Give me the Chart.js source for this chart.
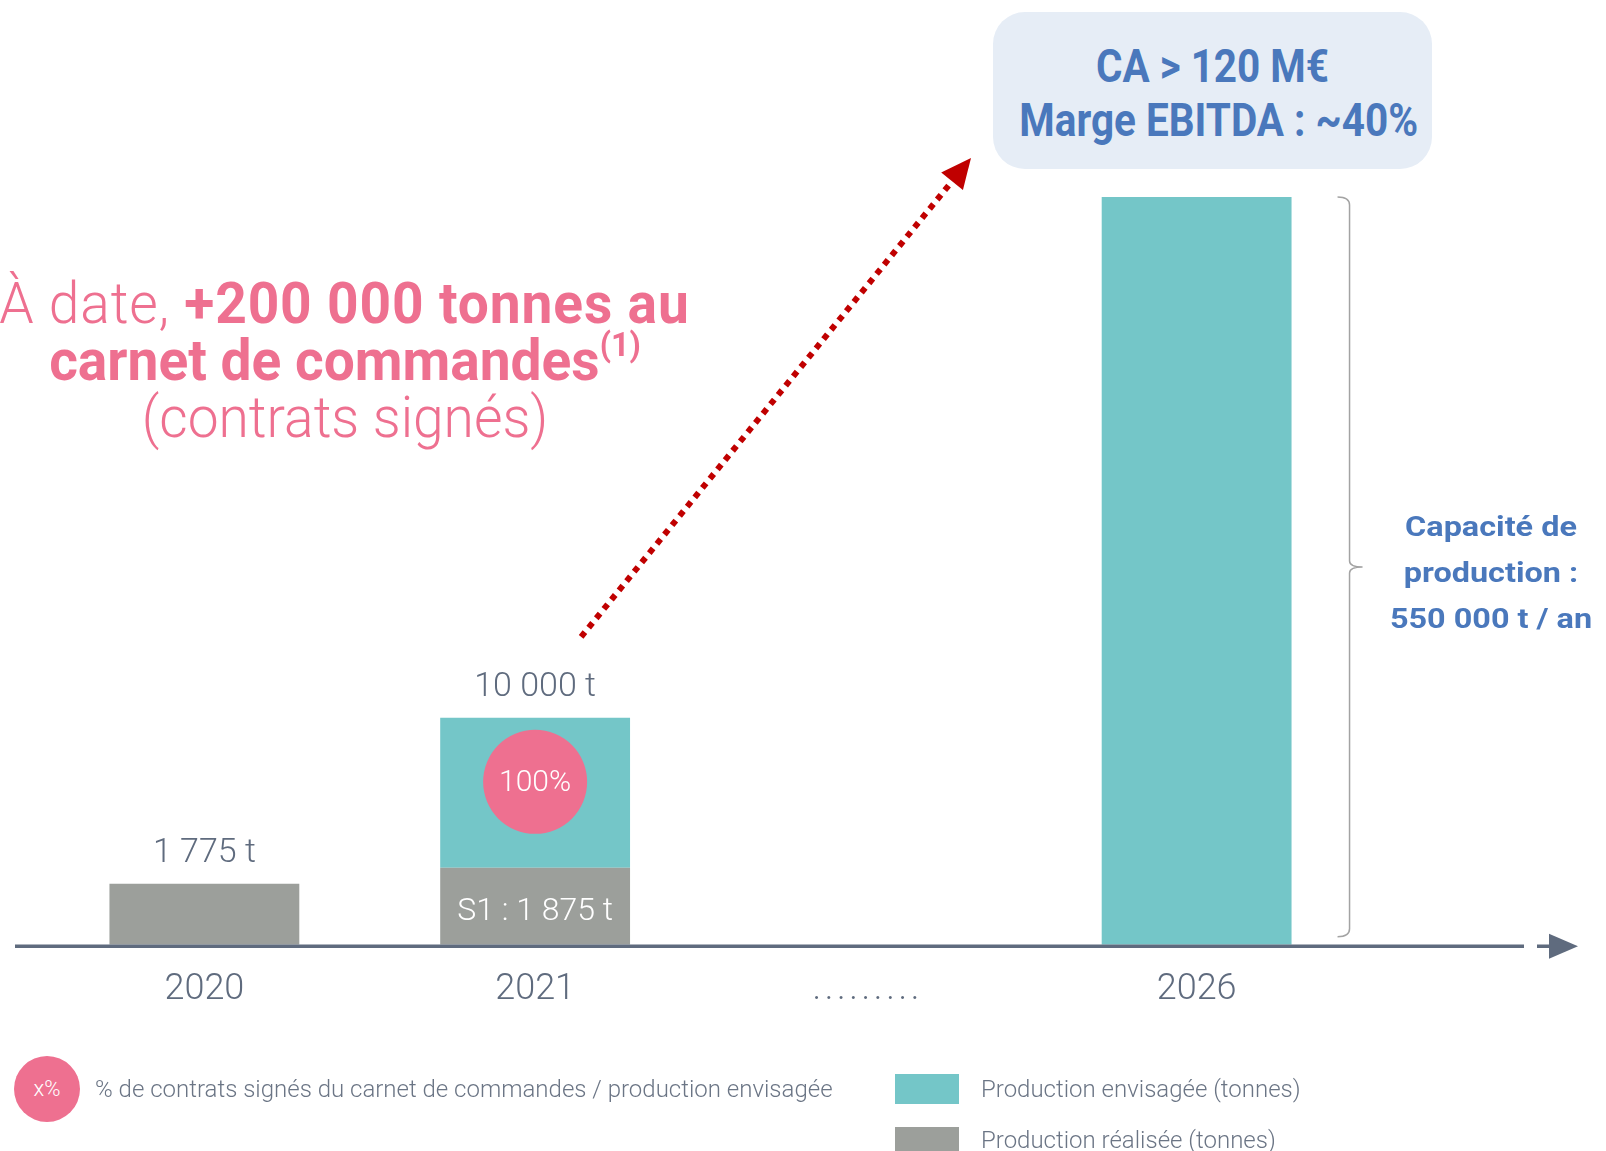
<!DOCTYPE html>
<html lang="fr">
<head>
<meta charset="utf-8">
<title>Production envisagée</title>
<script src="https://cdn.jsdelivr.net/npm/chart.js@4.4.0/dist/chart.umd.min.js"></script>
<style>
  html, body { margin: 0; padding: 0; background: #fff; }
  body { width: 1606px; height: 1151px; position: relative; overflow: hidden; font-family: Roboto, "Open Sans", sans-serif; }
  #chart { position: absolute; left: 0; top: 0; }
  .note { position: absolute; white-space: nowrap; }
  #headline { left: 0; top: 275px; width: 690px; color: #ee7090; font-size: 58px; line-height: 57px; font-weight: 300;
    text-align: center; transform: scaleX(0.95); transform-origin: 345px 0; }
  #headline .first { letter-spacing: 0.9px; position: relative; left: -19px; }
  #headline b { font-weight: 700; }
  #headline sup { font-size: 34px; font-weight: 700; vertical-align: 24px; line-height: 0; }
  #kpi { left: 993px; top: 12px; width: 439px; height: 157px; border-radius: 32px; background: #e6edf6; color: #4a78bc;
    font-weight: 700; font-size: 46px; line-height: 54px; text-align: center; box-sizing: border-box; padding-top: 27px; }
  #kpi div { transform: scaleX(0.88); }
  #capacity { left: 1371px; top: 504px; width: 240px; color: #4a78bc; font-weight: 700; font-size: 27px; line-height: 46px;
    text-align: center; transform: scaleX(1.2); transform-origin: 120px 0; }
  .legend-text { color: #6b7585; font-size: 24px; font-weight: 300; line-height: 30px; }
  #dot { left: 14px; top: 1056px; width: 66px; height: 66px; border-radius: 50%; background: #ee7090; color: #fff;
    font-size: 22px; font-weight: 300; line-height: 66px; text-align: center; }
  .swatch { position: absolute; left: 895px; width: 64px; height: 30px; }
</style>
</head>
<body>
<canvas id="chart" width="1606" height="1151"></canvas>

<div class="note" id="headline">
  <div class="first">À date, <b>+200 000 tonnes au</b></div>
  <div><b>carnet de commandes<sup>(1)</sup></b></div>
  <div>(contrats signés)</div>
</div>

<div class="note" id="kpi">
  <div>CA &gt; 120 M€</div>
  <div>Marge EBITDA : ~40%</div>
</div>

<div class="note" id="capacity">
  <div>Capacité de</div>
  <div>production :</div>
  <div>550 000 t / an</div>
</div>

<div class="note" id="dot">x%</div>
<div class="note legend-text" style="left:95px;top:1074px">% de contrats signés du carnet de commandes / production envisagée</div>
<div class="swatch" style="top:1074px;background:#74c6c8"></div>
<div class="note legend-text" style="left:981px;top:1074px">Production envisagée (tonnes)</div>
<div class="swatch" style="top:1127px;background:#9c9f9b"></div>
<div class="note legend-text" style="left:981px;top:1125px">Production réalisée (tonnes)</div>

<script>
// Years on the axis (the third slot is the "........." gap of the slide)
const YEARS = ["2020", "2021", ".\u200A.\u200A.\u200A.\u200A.\u200A.\u200A.\u200A.\u200A.", "2026"];
// Bar heights as drawn on the slide (the slide is not to scale)
const REALISED = [61, 77, null, null];
const PLANNED = [null, 150, null, 748];
// Texts printed on the bars
const TOP_LABELS = ["1 775 t", "10 000 t", "", ""];
const INNER_LABELS = ["", "S1 : 1 875 t", "", ""];
const SIGNED_SHARE = ["", "100%", "", ""];

const TEAL = "#74c6c8", GRAY = "#9c9f9b", AXIS = "#5f6b7e", PINK = "#ee7090", RED = "#c00000";
const FONT = "Roboto, 'Open Sans', sans-serif";

const overlay = {
  id: "overlay",
  afterDatasetsDraw(chart) {
    const { ctx, scales } = chart;
    const base = scales.y.getPixelForValue(0);
    ctx.save();

    // axis with arrow
    ctx.strokeStyle = AXIS; ctx.fillStyle = AXIS; ctx.lineWidth = 3.5;
    ctx.beginPath(); ctx.moveTo(15, base + 1.5); ctx.lineTo(1524, base + 1.5);
    ctx.moveTo(1537, base + 1.5); ctx.lineTo(1553, base + 1.5); ctx.stroke();
    ctx.beginPath(); ctx.moveTo(1549, base - 11); ctx.lineTo(1578, base + 1.5); ctx.lineTo(1549, base + 14); ctx.closePath(); ctx.fill();

    YEARS.forEach((y, i) => {
      const x = scales.x.getPixelForValue(i);
      const top = scales.y.getPixelForValue((REALISED[i] || 0) + (PLANNED[i] || 0));
      ctx.textAlign = "center"; ctx.textBaseline = "middle";
      if (TOP_LABELS[i]) {
        ctx.fillStyle = AXIS; ctx.font = `300 34px ${FONT}`;
        ctx.fillText(TOP_LABELS[i], x, top - 30);
      }
      if (INNER_LABELS[i]) {
        const gTop = scales.y.getPixelForValue(REALISED[i]);
        ctx.fillStyle = "#fff"; ctx.font = `300 32px ${FONT}`;
        ctx.fillText(INNER_LABELS[i], x, (gTop + base) / 2 + 6);
      }
      if (SIGNED_SHARE[i]) {
        ctx.fillStyle = PINK;
        ctx.beginPath(); ctx.arc(x, top + 64, 52, 0, Math.PI * 2); ctx.fill();
        ctx.fillStyle = "#fff"; ctx.font = `300 30px ${FONT}`;
        ctx.fillText(SIGNED_SHARE[i], x, top + 66);
      }
    });

    // brace beside the 2026 bar
    const last = chart.getDatasetMeta(1).data[3];
    const bx = last.x + last.width / 2 + 46, bTop = last.y, bBot = base - 8, mid = (bTop + bBot) / 2;
    ctx.strokeStyle = "#a3a3a3"; ctx.lineWidth = 1.5;
    ctx.beginPath();
    ctx.moveTo(bx, bTop); ctx.quadraticCurveTo(bx + 12, bTop, bx + 12, bTop + 8);
    ctx.lineTo(bx + 12, mid - 6); ctx.quadraticCurveTo(bx + 12, mid, bx + 25, mid);
    ctx.quadraticCurveTo(bx + 12, mid, bx + 12, mid + 6);
    ctx.lineTo(bx + 12, bBot - 8); ctx.quadraticCurveTo(bx + 12, bBot, bx, bBot);
    ctx.stroke();

    // dotted red arrow from above the 2021 bar towards the KPI box
    const x2021 = scales.x.getPixelForValue(1);
    const top2021 = scales.y.getPixelForValue(REALISED[1] + PLANNED[1]);
    const sx = x2021 + 46, sy = top2021 - 81;
    const tx = 971, ty = 158;
    const len = Math.hypot(tx - sx, ty - sy), ux = (tx - sx) / len, uy = (ty - sy) / len;
    const hx = tx - ux * 30, hy = ty - uy * 30;
    ctx.strokeStyle = RED; ctx.fillStyle = RED; ctx.lineWidth = 6; ctx.setLineDash([6, 6]);
    ctx.beginPath(); ctx.moveTo(sx, sy); ctx.lineTo(hx, hy); ctx.stroke();
    ctx.setLineDash([]);
    ctx.beginPath(); ctx.moveTo(tx, ty);
    ctx.lineTo(hx - uy * 14, hy + ux * 14); ctx.lineTo(hx + uy * 14, hy - ux * 14); ctx.closePath(); ctx.fill();

    ctx.restore();
  }
};

new Chart(document.getElementById("chart"), {
  type: "bar",
  data: {
    labels: YEARS,
    datasets: [
      { label: "Production réalisée (tonnes)", data: REALISED, backgroundColor: GRAY },
      { label: "Production envisagée (tonnes)", data: PLANNED, backgroundColor: TEAL }
    ]
  },
  options: {
    responsive: false, animation: false,
    layout: { padding: { left: 39, right: 244, top: 145, bottom: 115 } },
    datasets: { bar: { barPercentage: 0.574, categoryPercentage: 1, borderWidth: 0 } },
    plugins: { legend: { display: false }, tooltip: { enabled: false } },
    scales: {
      x: {
        stacked: true, grid: { display: false, drawTicks: false }, border: { display: false },
        ticks: { color: AXIS, padding: 24, autoSkip: false, maxRotation: 0, font: { family: FONT, size: 36, weight: 300 } }
      },
      y: { stacked: true, display: false, min: 0, max: 800 }
    }
  },
  plugins: [overlay]
});
</script>
</body>
</html>
